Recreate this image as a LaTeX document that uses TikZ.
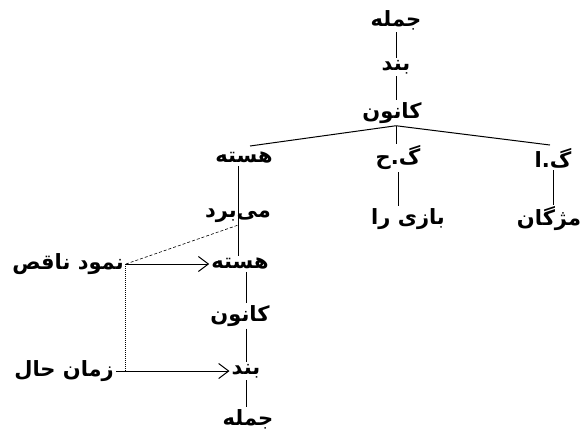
\documentclass[tikz,border=0pt]{standalone}
\usepackage{fontspec}
\newfontfamily\arabicfont[Script=Arabic]{DejaVu Sans}
\TeXXeTstate=1
\usepackage{tikz}
\usetikzlibrary{arrows.meta}
\usetikzlibrary{positioning}

\begin{document}
\begin{tikzpicture}[x=1pt, y=-1pt]
	\useasboundingbox (0,0) rectangle (584,432);
	\begin{scope}[every node/.style={inner sep=2pt, font=\arabicfont\bfseries\fontsize{21}{23}\selectfont,
	              execute at begin node=\beginR, execute at end node=\endR}]
		\node (1) at (396,20) {جمله};
		\node (2) at (396,67) {بند};
		\node (3) at (392,113) {کانون};
		\node (4) at (244,158) {هسته};
		\node (5) at (398,158) {گ.ح};
		\node (6) at (553,158) {گ.ا};
		\node (7) at (238,216) {می‌برد};
		\node (8) at (408,219) {بازی را};
		\node (9) at (549,219) {مژگان};
		\node (10) at (240,264) {هسته};
		\node (11) at (68,264) {نمود ناقص};
		\node (12) at (240,316) {کانون};
		\node (13) at (246,371) {بند};
		\node (14) at (64,371) {زمان حال};
		\node (15) at (248,419) {جمله};
	\end{scope}

	\begin{scope}[>={Straight Barb[length=10pt, width=15pt]},
	              every edge/.style={draw=black, line width=1pt}]
		\path (1) edge (1 |- 2.north);
		\path (1 |- 2.south) edge (1 |- 3.north);
		\path (1 |- 3.south) edge (250,146);
		\path (1 |- 3.south) edge (1 |- 5.north);
		\path (1 |- 3.south) edge (550,145);
		\path (7 |- 4.south) edge (7.north);
		\path (5) edge (5 |- 8.north);
		\path (6) edge (6 |- 9.north);
		\path (7.north) edge (7 |- 10.north);
		\path (13 |- 10.south) edge (13 |- 12.north);
		\path (13 |- 12.south) edge (13.north);
		\path (13) edge (13 |- 15.north);
		\path (11.east) edge[->] (10.west);
		\path (14.east) edge[->] (13.west);
		\path (11.east) edge[densely dashed, line width=0.6pt] (7.south);
		\path (11.east) edge[densely dotted, line width=1pt] (11.east |- 14.east);
	\end{scope}
\end{tikzpicture}
\end{document}
